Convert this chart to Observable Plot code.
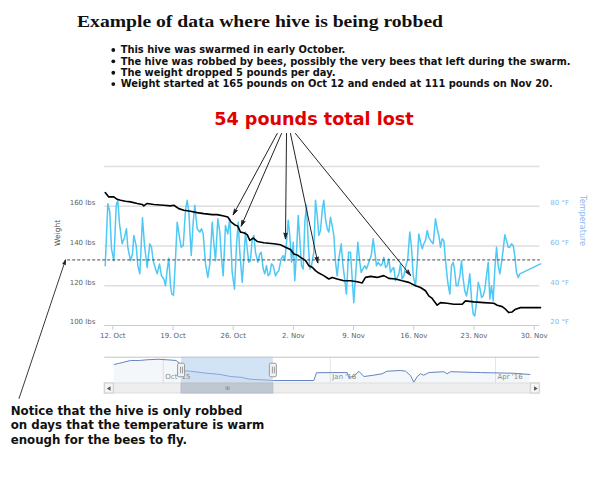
<!DOCTYPE html>
<html><head><meta charset="utf-8">
<script src="https://cdn.jsdelivr.net/npm/d3@7"></script>
<script src="https://cdn.jsdelivr.net/npm/@observablehq/plot@0.6"></script>
<style>
html,body{margin:0;padding:0;background:#fff;}
#wrap{position:relative;width:600px;height:500px;overflow:hidden;}
#wrap > svg{position:absolute;left:0;}
</style></head><body><div id="wrap"></div>
<script>
// ---------- data ----------
// days after 12 Oct 2015 00:00
const weightDays = [-0.88,-0.47,0.12,0.51,0.90,1.48,2.06,2.84,3.42,3.60,4.00,4.77,5.93,6.71,7.09,7.67,8.26,9.03,9.81,10.58,11.56,12.14,12.91,13.37,13.77,14.15,14.53,14.85,15.23,15.63,15.93,16.33,16.79,17.56,18.72,19.50,20.08,20.66,21.05,21.44,21.83,22.41,22.79,23.19,23.57,23.95,24.53,25.12,25.51,26.09,26.86,27.64,28.42,29.00,29.38,29.97,30.74,31.51,32.09,32.87,33.65,34.42,35.20,35.78,36.36,36.74,37.14,37.33,37.72,38.10,38.88,39.65,40.63,41.01,41.98,43.14,44.30,44.70,45.28,45.66,46.05,46.44,46.83,47.41,49.74];
const weightLbs = [166.9,164.7,164.7,163.5,163,162.5,162.2,161.4,160.9,160.2,161.4,160.9,160.5,160.2,160.5,158.8,158,157.5,156.8,156.3,155.8,155.8,155.1,154.6,152,150.7,150,147,146.7,145.7,142.8,144,142.3,141.6,141.1,140.6,139.4,138.2,136,135.5,134.3,132.7,130.1,129.3,127.6,126.4,125.1,123.4,124.2,123.4,122.5,122.5,122,121.4,124.2,124.7,124.2,125.1,123.7,123.4,122.5,121.7,120,119.1,117.5,114.9,113.6,112.4,110.2,111.5,111.2,110.7,110.7,112.4,111.9,111.5,111.2,110.2,109.5,108.2,106.5,106.8,108.2,109,109];

const tempDays = [-0.88,-0.58,-0.35,-0.15,0.12,0.40,0.58,0.78,1.09,1.36,1.59,1.74,2.06,2.29,2.44,2.72,2.91,3.14,3.30,3.45,3.69,4.00,4.30,4.50,4.70,4.97,5.16,5.43,5.66,5.93,6.13,6.33,6.51,6.71,6.86,7.06,7.29,7.49,7.72,7.95,8.19,8.45,8.65,8.84,9.12,9.35,9.53,9.81,10.12,10.31,10.51,10.78,11.05,11.28,11.56,11.74,11.94,12.21,12.44,12.64,12.84,13.10,13.37,13.60,13.88,14.15,14.38,14.58,14.77,15.05,15.23,15.43,15.63,15.81,16.01,16.21,16.40,16.59,16.86,17.09,17.26,17.49,17.67,17.87,18.07,18.26,18.45,18.65,18.92,19.12,19.30,19.58,19.81,20.00,20.20,20.40,20.58,20.78,20.98,21.16,21.36,21.56,21.74,21.94,22.14,22.33,22.52,22.72,22.91,23.10,23.37,23.57,23.77,23.95,24.15,24.35,24.53,24.73,24.93,25.12,25.31,25.51,25.70,25.90,26.09,26.28,26.56,26.74,26.94,27.17,27.41,27.64,27.84,28.02,28.26,28.49,28.72,28.88,29.07,29.30,29.50,29.77,30.05,30.28,30.47,30.66,30.86,31.13,31.33,31.51,31.71,31.91,32.09,32.29,32.49,32.67,32.87,33.07,33.26,33.45,33.65,33.84,34.03,34.30,34.53,34.73,34.93,35.20,35.40,35.58,35.78,35.98,36.16,36.36,36.56,36.74,36.94,37.26,37.52,37.72,37.91,38.10,38.30,38.49,38.69,38.95,39.19,39.38,39.58,39.73,39.93,40.12,40.35,40.55,40.74,40.93,41.13,41.33,41.51,41.71,41.91,42.09,42.29,42.49,42.67,42.87,43.07,43.26,43.45,43.65,43.84,44.03,44.23,44.42,44.62,44.81,45.00,45.20,45.40,45.58,45.78,45.98,46.16,46.36,46.56,46.74,46.94,47.14,47.33,49.74];
const tempF = [50.1,81.3,77.1,58.6,52.6,80.5,83,71.2,61.1,64.4,68.7,59.4,52.6,56,65.3,60.2,50.1,46,60.2,74.2,60.2,49.2,61.1,59.4,52.6,48.4,46,51,45,43.4,40,48.4,53.8,40,35.8,35.3,53.5,72,65.3,59.4,60.2,77.9,83,77.1,55.2,72,80.5,68.7,67,68.7,66.1,51,44.2,51,72,61.9,52.6,73.7,67,53.5,45,70.3,66.1,73.7,46.7,38.3,60.2,72,56.8,41.7,53.5,67,58.6,51.8,52.6,63.6,65.3,56.8,51.8,56,56.8,48.4,46,50.1,45,46,51,50.1,45,46.7,47.6,53.5,55.2,52.6,61.9,72.9,65.3,51.8,61.9,42.5,56.8,75.4,63.6,50.1,48.4,72,80.5,61.9,48.4,50.1,56.8,83,75.4,65.3,67.8,77.9,83,73.7,68.7,67,74.5,70.3,65.3,51.8,45,53.5,61.1,51,44.2,35.8,56.8,56.8,43.4,31.5,46.7,61.9,51.8,46.7,48.4,50.1,48.4,51.8,55.2,63.6,56.8,50.1,51.8,50.1,51,54.3,49.2,50.1,53.5,46.7,48.4,49.2,42.5,44.2,46,51,43.4,45,49.2,53.5,67,59.4,45,40,51.8,66.1,61.9,58.6,61.1,62.8,67.8,64.4,62.8,61.1,73.7,68.7,65.3,59.4,63.6,62.8,52.6,41.7,35.8,50.1,51.8,48.4,40,40,45,52.6,43.4,37.4,34.9,40,46,33.3,25.7,24.8,31.5,41.7,39.1,34.1,34.9,38.3,45,51.8,33.3,40,32.4,48.4,59.4,50.1,46,51.8,58.6,65.6,62.8,59.4,59.4,61.1,60.2,55.2,46.7,44.2,46,51];

// navigator (whole season, lbs)
const navDates = ["2015-09-04 00","2015-09-07 00","2015-09-13 00","2015-09-18 00","2015-09-22 00","2015-09-28 00","2015-10-03 00","2015-10-08 00","2015-10-10 00","2015-10-10 12","2015-10-16 00","2015-10-25 00","2015-11-01 14","2015-11-07 00","2015-11-12 14","2015-11-18 00","2015-11-24 12","2015-11-30 22","2015-12-22 22","2015-12-24 10","2016-01-03 00","2016-01-10 07","2016-01-11 05","2016-01-14 00","2016-01-16 17","2016-01-19 12","2016-01-25 00","2016-01-29 14","2016-02-01 07","2016-02-08 17","2016-02-11 10","2016-02-14 05","2016-02-16 00","2016-02-17 22","2016-02-19 17","2016-02-21 12","2016-02-24 07","2016-03-03 12","2016-03-05 10","2016-03-07 05","2016-03-23 17","2016-04-11 00","2016-04-19 22"];
const navLbs = [202,209,225,225,229,232,229,225,209,167,163,151,144,132,128,116.5,113,109,109,154,155,155,128,132,163,132,140,148,163,167,163,138,99,132,148,140,155,160,148,160,155,151,144];

const xTickDays = [0,7,14,21,28,35,42,49];
const lbsTicks = [100,120,140,160];
const gridLbs = [120,140,160,180];
const navTickDates = ["2015-10-01 00","2016-01-01 00","2016-04-01 00"];
const TEMP_OFFSET = 80;      // right axis: °F = lbs - 80
const FLY_TEMP = 53;         // dashed threshold, °F

// annotation arrows: from the red caption to the robbing drops
const arrowFrom = [19.12,19.62,20.20,20.66,21.24];
const arrowTo = [[14.0,155.7],[14.93,150],[20.08,143.6],[23.84,131.5],[34.62,125.2]];

// ---------- build ----------
const BASE = Date.UTC(2015, 9, 12);
const day = d => new Date(BASE + d * 864e5);
const parseH = d3.utcParse("%Y-%m-%d %H");
const weight = weightDays.map((d, i) => ({date: day(d), lbs: weightLbs[i]}));
const temp = tempDays.map((d, i) => ({date: day(d), f: tempF[i]}));
const nav = navDates.map((d, i) => ({date: parseH(d), lbs: navLbs[i]}));
const navTicks = navTickDates.map(parseH);
const xDomain = [day(-0.93), day(49.65)];
const navDomain = [parseH("2015-08-29 19"), parseH("2016-04-25 10")];
const CAPTION_LBS = 196.6;
const arrows = arrowFrom.map((d, i) => ({x1: day(d), y1: CAPTION_LBS, x2: day(arrowTo[i][0]), y2: arrowTo[i][1]}));
const noteArrow = [{x1: day(-10.9), y1: 63.3, x2: day(-5.5), y2: FLY_TEMP + TEMP_OFFSET}];
const threshold = [{x1: day(-5.3), x2: xDomain[1], y: FLY_TEMP + TEMP_OFFSET}];

const wrap = document.getElementById("wrap");
const ML = 104.3, MR = 60.7;

const main = Plot.plot({
  width: 600, height: 500,
  marginTop: 166, marginBottom: 175, marginLeft: ML, marginRight: MR,
  style: {fontFamily: "DejaVu Sans, Verdana, sans-serif", fontSize: "7px", background: "transparent", overflow: "visible"},
  x: {type: "utc", domain: xDomain},
  y: {domain: [100, 180]},
  marks: [
    Plot.ruleY(gridLbs, {stroke: "#dedede", strokeWidth: 1.4}),
    Plot.ruleY([100], {stroke: "#c0d0e0", strokeWidth: 1}),
    Plot.axisX({ticks: xTickDays.map(day), tickFormat: d3.utcFormat("%-d. %b"), tickSize: 5, tickPadding: 3, stroke: "#c0d0e0", fill: "#606060"}),
    Plot.axisY({anchor: "left", ticks: lbsTicks, tickFormat: d => d + " lbs", tickSize: 0, tickPadding: 9.5, fill: "#606060", dy: -3.5}),
    Plot.axisY({anchor: "right", ticks: lbsTicks, tickFormat: d => (d - TEMP_OFFSET) + " °F", tickSize: 0, tickPadding: 10.5, fill: "#8ab8ee", dy: -3.5}),
    Plot.text(["Weight"], {text: d => d, frameAnchor: "left", rotate: -90, dx: -47, fill: "#4d4d4d", fontSize: 7.5}),
    Plot.text(["Temperature"], {text: d => d, frameAnchor: "right", rotate: 90, dx: 42.5, fill: "#8ab8ee", fontSize: 8}),
    Plot.line(temp, {x: "date", y: d => d.f + TEMP_OFFSET, stroke: "#4ec8f4", strokeWidth: 1.5}),
    Plot.line(weight, {x: "date", y: "lbs", stroke: "#000", strokeWidth: 1.6}),
    Plot.link(threshold, {x1: "x1", x2: "x2", y1: "y", y2: "y", stroke: "#333", strokeDasharray: "3,2", strokeWidth: 0.9}),
    Plot.arrow(arrows, {x1: "x1", y1: "y1", x2: "x2", y2: "y2", stroke: "#222", fill: "#222", strokeWidth: 1, headLength: 9, headAngle: 32}),
    Plot.arrow(noteArrow, {x1: "x1", y1: "y1", x2: "x2", y2: "y2", stroke: "#222", fill: "#222", strokeWidth: 0.9, headLength: 8, headAngle: 32})
  ]
});
main.style.top = "0px";
wrap.appendChild(main);

const sel = [xDomain];
const navPlot = Plot.plot({
  width: 600, height: 34, marginTop: 6.7, marginBottom: 0.7, marginLeft: ML, marginRight: MR,
  style: {fontFamily: "DejaVu Sans, Verdana, sans-serif", fontSize: "7px", background: "transparent", overflow: "visible"},
  x: {type: "utc", domain: navDomain, axis: null},
  y: {domain: [90, 244], axis: null},
  marks: [
    Plot.ruleX(navTicks, {stroke: "#e6e6e6"}),
    Plot.areaY(nav, {x: "date", y1: 90, y2: "lbs", fill: "#4572a7", fillOpacity: 0.06}),
    Plot.line(nav, {x: "date", y: "lbs", stroke: "#6685c2", strokeWidth: 1}),
    Plot.rect(sel, {x1: d => d[0], x2: d => d[1], fill: "#a8c8ee", fillOpacity: 0.5}),
    Plot.text(navTicks, {x: d => d, text: d3.utcFormat("%b '%y"), frameAnchor: "bottom", textAnchor: "start", dx: 2, dy: -5, fill: "#888"}),
    Plot.ruleY([244], {stroke: "#c4c4c4"}),
    Plot.rect(xDomain, {x1: d => d, x2: d => d, insetLeft: -3.5, insetRight: -3.5, insetTop: 6.5, insetBottom: 6.5, fill: "#f2f2f2", stroke: "#999", rx: 1.5}),
    Plot.ruleX(xDomain, {dx: -1, insetTop: 10, insetBottom: 10, stroke: "#999"}),
    Plot.ruleX(xDomain, {dx: 1, insetTop: 10, insetBottom: 10, stroke: "#999"})
  ]
});
navPlot.style.top = "350px";
wrap.appendChild(navPlot);

const scroll = Plot.plot({
  width: 600, height: 10, marginTop: 0, marginBottom: 0, marginLeft: ML, marginRight: MR,
  style: {fontFamily: "DejaVu Sans, Verdana, sans-serif", fontSize: "6px", background: "transparent", overflow: "visible"},
  x: {type: "utc", domain: navDomain, axis: null},
  marks: [
    Plot.rect([navDomain], {x1: d => d[0], x2: d => d[1], fill: "#eeeeee", stroke: "#dddddd"}),
    Plot.rect(sel, {x1: d => d[0], x2: d => d[1], fill: "#bfc8d1", stroke: "#b5bec8"}),
    Plot.text(sel, {x: d => new Date((+d[0] + +d[1]) / 2), text: () => "III", frameAnchor: "middle", fill: "#666", fontSize: 5}),
    Plot.rect([navDomain[0]], {x1: d => d, x2: d => d, insetRight: -9, fill: "#f4f4f4", stroke: "#cccccc"}),
    Plot.rect([navDomain[1]], {x1: d => d, x2: d => d, insetLeft: -9, fill: "#f4f4f4", stroke: "#cccccc"}),
    Plot.dot([navDomain[0]], {x: d => d, frameAnchor: "middle", dx: 4.5, symbol: "triangle", rotate: -90, r: 1.6, fill: "#555", stroke: "none"}),
    Plot.dot([navDomain[1]], {x: d => d, frameAnchor: "middle", dx: -4.5, symbol: "triangle", rotate: 90, r: 1.6, fill: "#555", stroke: "none"})
  ]
});
scroll.style.top = "383.3px";
wrap.appendChild(scroll);

// ---------- text overlay ----------
const title = "Example of data where hive is being robbed";
const bullets = [
  "This hive was swarmed in early October.",
  "The hive was robbed by bees, possibly the very bees that left during the swarm.",
  "The weight dropped 5 pounds per day.",
  "Weight started at 165 pounds on Oct 12 and ended at 111 pounds on Nov 20."
];
const caption = "54 pounds total lost";
const note = [
  "Notice that the hive is only robbed",
  "on days that the temperature is warm",
  "enough for the bees to fly."
];
const ov = d3.create("svg").attr("width", 600).attr("height", 500).style("top", "0px").style("pointer-events", "none");
ov.append("text").attr("x", 77).attr("y", 26.7).attr("textLength", 366).attr("lengthAdjust", "spacingAndGlyphs")
  .style("font", "bold 16px 'Liberation Serif', serif").attr("fill", "#111").text(title);
bullets.forEach((b, i) => {
  const y = 53.3 + i * 11.37;
  ov.append("circle").attr("cx", 113.3).attr("cy", y - 3.3).attr("r", 1.9).attr("fill", "#111");
  ov.append("text").attr("x", 120.7).attr("y", y).style("font", "bold 9.9px 'DejaVu Sans', sans-serif").attr("fill", "#111").text(b);
});
ov.append("text").attr("x", 314).attr("y", 124.5).attr("text-anchor", "middle")
  .style("font", "bold 17.6px 'DejaVu Sans', sans-serif").attr("fill", "#e00000").text(caption);
note.forEach((t, i) => {
  ov.append("text").attr("x", 10.7).attr("y", 415 + i * 14.3).style("font", "bold 11.8px 'DejaVu Sans', sans-serif").attr("fill", "#111").text(t);
});
wrap.appendChild(ov.node());
</script></body></html>
